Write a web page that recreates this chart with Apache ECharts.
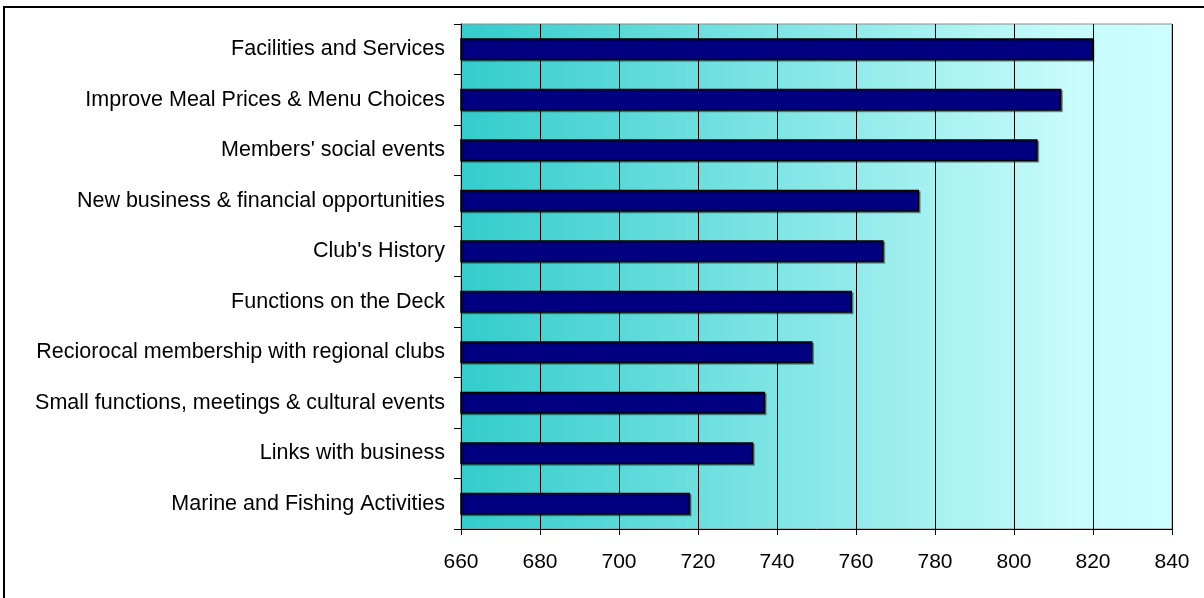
<!DOCTYPE html>
<html>
<head>
<meta charset="utf-8">
<script src="https://cdn.jsdelivr.net/npm/echarts@6/dist/echarts.min.js"></script>
<style>
html,body{margin:0;padding:0;background:#fff;}
#frame{position:absolute;left:3px;top:6px;width:1210px;height:600px;border:2px solid #000;box-sizing:border-box;}
#chart{position:absolute;left:0;top:0;width:1204px;height:598px;}
</style>
</head>
<body>
<div id="frame"></div>
<div id="chart"></div>
<script>
const categories = [
  "Facilities and Services",
  "Improve Meal Prices & Menu Choices",
  "Members' social events",
  "New business & financial opportunities",
  "Club's History",
  "Functions on the Deck",
  "Reciorocal membership with regional clubs",
  "Small functions, meetings & cultural events",
  "Links with business",
  "Marine and Fishing Activities"
];
const values = [820, 812, 806, 776, 767, 759, 749, 737, 734, 718];
const xTicks = { min: 660, max: 840, interval: 20 };

const chart = echarts.init(document.getElementById('chart'), null, { renderer: 'canvas' });
chart.setOption({
  animation: false,
  backgroundColor: 'transparent',
  grid: {
    left: 461, right: 32, top: 24, bottom: 69,
    show: true,
    borderColor: '#8c8c8c',
    borderWidth: 1,
    backgroundColor: new echarts.graphic.LinearGradient(0, 0, 1, 0, [
      { offset: 0, color: '#33CCCC' },
      { offset: 0.85, color: '#C6FBFB' },
      { offset: 1, color: '#CCFFFF' }
    ])
  },
  xAxis: {
    type: 'value',
    min: xTicks.min, max: xTicks.max, interval: xTicks.interval,
    axisLine: { show: true, lineStyle: { color: '#000', width: 1 } },
    axisTick: { show: true, length: 6, lineStyle: { color: '#000' } },
    splitLine: { show: true, lineStyle: { color: '#000', width: 1 } },
    axisLabel: { color: '#000', fontFamily: 'Liberation Sans, Arial, sans-serif', fontSize: 21, margin: 23 }
  },
  yAxis: {
    type: 'category',
    data: categories,
    inverse: true,
    axisLine: { show: true, lineStyle: { color: '#000', width: 1 } },
    axisTick: { show: true, length: 7, alignWithLabel: false, lineStyle: { color: '#000' } },
    axisLabel: { color: '#000', fontFamily: 'Liberation Sans, Arial, sans-serif', fontSize: 21.5, margin: 16 }
  },
  series: [{
    type: 'bar',
    data: values,
    barCategoryGap: '56%',
    itemStyle: {
      color: '#000080',
      borderColor: '#000',
      borderWidth: 1.5,
      shadowColor: 'rgba(0,0,0,0.35)',
      shadowOffsetX: 1.5,
      shadowOffsetY: 1.5,
      shadowBlur: 0
    }
  }]
});
</script>
</body>
</html>
